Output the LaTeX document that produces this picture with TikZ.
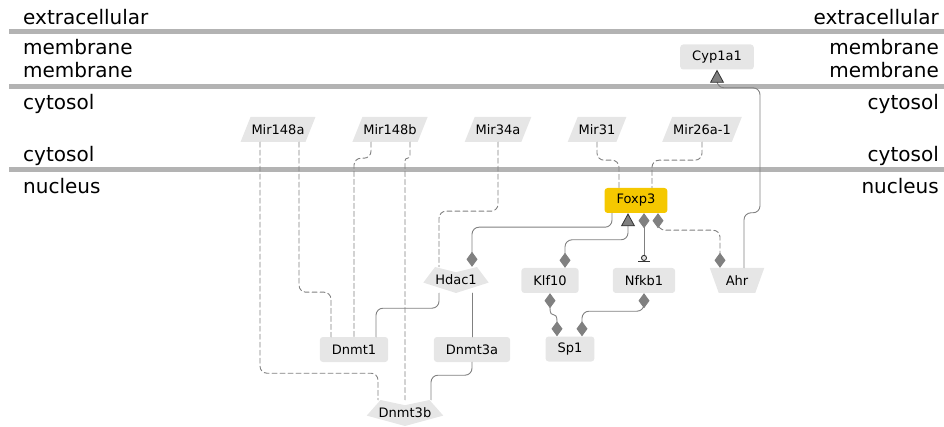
\documentclass[tikz,border=0pt]{standalone}
\usepackage{fontspec}
\setmainfont{DejaVu Sans}
\usetikzlibrary{arrows.meta,calc}
\definecolor{boxgray}{RGB}{230,230,230}
\definecolor{lanegray}{RGB}{179,179,179}
\definecolor{linegray}{RGB}{128,128,128}
\definecolor{foxyellow}{RGB}{245,200,0}
\newcommand\genefont{\fontsize{13}{15}\selectfont}
\newcommand\lanefont{\fontsize{20}{24}\selectfont}
\tikzset{
  lane/.style={draw=lanegray,line width=5pt,line cap=butt},
  lanelabel/.style={font=\lanefont,inner sep=0pt},
  gene/.style={fill=boxgray,rounded corners=3pt,minimum height=25pt,inner xsep=12pt,inner ysep=0pt,font=\genefont},
  mirna/.style={minimum height=25pt,inner xsep=11pt,inner ysep=0pt,font=\genefont,
    path picture={\fill[boxgray] ([xshift=10pt]path picture bounding box.north west)
      -- (path picture bounding box.north east) -- ([xshift=-10pt]path picture bounding box.south east)
      -- (path picture bounding box.south west) -- cycle;}},
  trap/.style={minimum height=25pt,inner xsep=16pt,inner ysep=0pt,font=\genefont,
    path picture={\fill[boxgray] (path picture bounding box.north west)
      -- (path picture bounding box.north east) -- ([xshift=-9pt]path picture bounding box.south east)
      -- ([xshift=9pt]path picture bounding box.south west) -- cycle;}},
  chevron/.style={minimum height=26pt,inner xsep=12pt,inner ysep=0pt,font=\genefont,
    path picture={\fill[boxgray] let \p1=(path picture bounding box.north west),
      \p2=(path picture bounding box.south east) in
      ({\x1+0.18*(\x2-\x1)},\y1) -- ({\x1+0.5*(\x2-\x1)},{\y1-0.2*(\y1-\y2)})
      -- ({\x1+0.82*(\x2-\x1)},\y1) -- (\x2,{\y1-0.6*(\y1-\y2)})
      -- ({\x1+0.5*(\x2-\x1)},\y2) -- (\x1,{\y1-0.6*(\y1-\y2)}) -- cycle;}},
  edge/.style={draw=linegray,line width=0.9pt,rounded corners=7pt},
  dashedge/.style={edge,dash pattern=on 5pt off 3pt},
  dia/.tip={Diamond[length=15pt,width=11pt,color=linegray,fill=linegray]},
  tri/.tip={Triangle[length=13pt,width=14pt,color=black!80,fill=linegray,line width=0.8pt]},
}
\begin{document}
\begin{tikzpicture}[x=1pt,y=-1pt,line cap=round,line join=round]
\useasboundingbox (0,0) rectangle (944,427);
% compartments
\foreach \y in {32,87,170} \draw[lane] (9,\y) -- (944,\y);
\node[lanelabel,anchor=base west] (extl) at (23,25) {extracellular};
\node[lanelabel,anchor=base east] (extr) at (939,25) {extracellular};
\node[lanelabel,anchor=base west] (meml) at (23,55) {membrane};
\node[lanelabel,anchor=base east] (memr) at (939,55) {membrane};
\node[lanelabel,anchor=base west] (meml2) at (23,78) {membrane};
\node[lanelabel,anchor=base east] (memr2) at (939,78) {membrane};
\node[lanelabel,anchor=base west] (cytl) at (23,110) {cytosol};
\node[lanelabel,anchor=base east] (cytr) at (939,110) {cytosol};
\node[lanelabel,anchor=base west] (cytl2) at (23,162) {cytosol};
\node[lanelabel,anchor=base east] (cytr2) at (939,162) {cytosol};
\node[lanelabel,anchor=base west] (nucl) at (23,194) {nucleus};
\node[lanelabel,anchor=base east] (nucr) at (939,194) {nucleus};
% genes and rnas
\node[gene] (cyp1a1) at (717,57) {Cyp1a1};
\node[mirna] (mir148a) at (278,129.5) {Mir148a};
\node[mirna] (mir148b) at (390,129.5) {Mir148b};
\node[mirna] (mir34a) at (498,129.5) {Mir34a};
\node[mirna] (mir31) at (597,129.5) {Mir31};
\node[mirna] (mir26a) at (702,129.5) {Mir26a-1};
\node[gene,fill=foxyellow] (foxp3) at (636,200.5) {Foxp3};
\node[chevron] (hdac1) at (456,280) {Hdac1};
\node[gene] (klf10) at (550,280.5) {Klf10};
\node[gene] (nfkb1) at (644,280.5) {Nfkb1};
\node[trap] (ahr) at (737,280.5) {Ahr};
\node[gene] (dnmt1) at (354,349.5) {Dnmt1};
\node[gene] (dnmt3a) at (472,349.5) {Dnmt3a};
\node[gene] (sp1) at (570,349) {Sp1};
\node[chevron] (dnmt3b) at (405,413) {Dnmt3b};
% mirna targets
\draw[dashedge] ([xshift=-18pt]mir148a.south) -- ++(0,231) -| ([xshift=-27pt]dnmt3b.north);
\draw[dashedge] ([xshift=21pt]mir148a.south) -- ++(0,150) -| ([xshift=-23pt]dnmt1.north);
\draw[dashedge] ([xshift=-19pt]mir148b.south) -- ++(0,16) -| (dnmt1.north);
\draw[dashedge,rounded corners=2.5pt] ([xshift=20pt]mir148b.south) -- ++(0,16) -| (dnmt3b.north);
\draw[dashedge] (mir34a.south) -- ++(0,69) -| ([xshift=-17pt]hdac1.north);
\draw[dashedge] (mir31.south) -- ++(0,18) -| ([xshift=-17pt]foxp3.north);
\draw[dashedge] (mir26a.south) -- ++(0,18) -| ([xshift=16pt]foxp3.north);
% interactions
\draw[edge,-{dia}] ([xshift=-24pt]foxp3.south) -- ++(0,14) -| ([xshift=16pt]hdac1.north);
\draw[edge,{dia}-{tri}] ([xshift=15pt]klf10.north) -- ++(0,-28) -| ([xshift=-8pt]foxp3.south);
\draw[edge,{dia}-{Circle[length=6pt,width=6pt,color=black!80,fill=boxgray] Bar[width=12pt,color=black!80]},shorten >=6pt]
  ([xshift=8pt]foxp3.south) -- (nfkb1.north);
\draw[dashedge,{dia}-{dia}] ([xshift=22pt]foxp3.south) -- ++(0,17) -| ([xshift=-17pt]ahr.north);
\draw[edge,-{tri}] ([xshift=7pt]ahr.north) -- ++(0,-55) -| ++(16,-125) -| (cyp1a1.south);
\draw[edge] ([xshift=-17pt]hdac1.south) -- ++(0,15) -| ([xshift=22pt]dnmt1.north);
\draw[edge] ([xshift=16pt]hdac1.south) -- (dnmt3a.north);
\draw[edge] (dnmt3a.south) -- ++(0,13) -| ([xshift=26pt]dnmt3b.north);
\draw[edge,{dia}-{dia}] (klf10.south) .. controls +(0,28) and +(0,-28) .. ([xshift=-13pt]sp1.north);
\draw[edge,{dia}-{dia}] (nfkb1.south) -- ++(0,18) -| ([xshift=12pt]sp1.north);
\end{tikzpicture}
\end{document}
